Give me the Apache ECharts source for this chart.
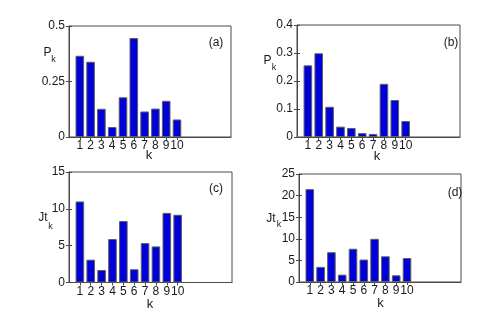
<!DOCTYPE html>
<html>
<head>
<meta charset="utf-8">
<script src="https://cdn.jsdelivr.net/npm/echarts@6/dist/echarts.min.js"></script>
<style>
html,body{margin:0;padding:0;background:#fff;}
#chart{width:491px;height:327px;}
</style>
</head>
<body>
<div id="chart"></div>
<script>
// ---- data ----
const kValues = [1, 2, 3, 4, 5, 6, 7, 8, 9, 10];
const pkA = [0.366, 0.339, 0.127, 0.045, 0.179, 0.446, 0.115, 0.128, 0.163, 0.079];
const pkB = [0.256, 0.299, 0.108, 0.037, 0.032, 0.014, 0.011, 0.190, 0.132, 0.057];
const jtC = [11.0, 3.1, 1.7, 5.9, 8.35, 1.8, 5.35, 4.9, 9.45, 9.2];
const jtD = [21.5, 3.5, 6.9, 1.7, 7.7, 5.2, 10.0, 5.95, 1.55, 5.55];
const yMaxes = [0.5, 0.4, 15, 25];
const yIntervals = [0.25, 0.1, 5, 5];
const xRange = [0, 15];
const panelTags = ['(a)', '(b)', '(c)', '(d)'];
const yNames = [['P', 'k'], ['P', 'k'], ['Jt', 'k'], ['Jt', 'k']];
const xName = 'k';

// ---- layout ----
const grids = [
  {left: 69, top: 26, width: 162, height: 111},
  {left: 297, top: 25, width: 163, height: 112},
  {left: 69, top: 172, width: 163, height: 110.5},
  {left: 299, top: 174, width: 162, height: 108}
];
const tagPos = [[216, 43], [451, 43], [216, 189], [455, 193]];
const yNamePos = [[[47.5, 52.5], [53.5, 60]], [[267.5, 61], [274, 67.5]], [[43, 218], [50.5, 226.5]], [[271, 218.5], [279, 224.5]]];
const xNamePos = [[149, 155.5], [377, 156], [150, 304], [380.5, 303.5]];

const FONT = 'Liberation Sans, Arial, Helvetica, sans-serif';
const AX = '#4a4a4a';
const TXT = '#1a1a1a';
const seriesData = [pkA, pkB, jtC, jtD];

const option = {
  animation: false,
  backgroundColor: '#fff',
  grid: grids.map(g => Object.assign({show: true, borderColor: AX, borderWidth: 1, containLabel: false}, g)),
  xAxis: [],
  yAxis: [],
  series: [],
  graphic: []
};

grids.forEach((g, i) => {
  option.xAxis.push({
    type: 'value', gridIndex: i, position: 'bottom', min: xRange[0], max: xRange[1], interval: 1,
    axisLine: {show: true, onZero: false, lineStyle: {color: AX, width: 1}},
    axisTick: {show: true, inside: true, length: 3, lineStyle: {color: AX}, customValues: kValues},
    axisLabel: {show: true, margin: 3, fontSize: 12, fontFamily: FONT, color: TXT, customValues: kValues, hideOverlap: false},
    splitLine: {show: false}
  });
  option.xAxis.push({
    type: 'value', gridIndex: i, position: 'top', min: xRange[0], max: xRange[1], interval: 1,
    axisLine: {show: false},
    axisTick: {show: true, inside: true, length: 3, lineStyle: {color: AX}, customValues: kValues},
    axisLabel: {show: false},
    splitLine: {show: false}
  });
  option.yAxis.push({
    type: 'value', gridIndex: i, position: 'left', min: 0, max: yMaxes[i], interval: yIntervals[i],
    axisLine: {show: true, lineStyle: {color: AX, width: 1}},
    axisTick: {show: true, inside: true, length: 3, lineStyle: {color: AX}},
    axisLabel: {show: true, margin: 4, fontSize: 12, fontFamily: FONT, color: TXT},
    splitLine: {show: false}
  });
  option.yAxis.push({
    type: 'value', gridIndex: i, position: 'right', min: 0, max: yMaxes[i], interval: yIntervals[i],
    axisLine: {show: false},
    axisTick: {show: true, inside: true, length: 3, lineStyle: {color: AX}},
    axisLabel: {show: false},
    splitLine: {show: false}
  });
  option.series.push({
    type: 'bar', xAxisIndex: 2 * i, yAxisIndex: 2 * i,
    barWidth: 8.6,
    data: kValues.map((k, j) => [k, seriesData[i][j]]),
    itemStyle: {color: '#0000d8', borderColor: '#606060', borderWidth: 1},
    emphasis: {disabled: true}
  });
  option.graphic.push({
    type: 'text', x: tagPos[i][0], y: tagPos[i][1],
    style: {text: panelTags[i], font: '12px ' + FONT, fill: TXT, align: 'center', verticalAlign: 'middle'}
  });
  option.graphic.push({
    type: 'text', x: yNamePos[i][0][0], y: yNamePos[i][0][1],
    style: {text: yNames[i][0], font: '12px ' + FONT, fill: TXT, align: 'center', verticalAlign: 'middle'}
  });
  option.graphic.push({
    type: 'text', x: yNamePos[i][1][0], y: yNamePos[i][1][1],
    style: {text: yNames[i][1], font: '9px ' + FONT, fill: TXT, align: 'center', verticalAlign: 'middle'}
  });
  option.graphic.push({
    type: 'text', x: xNamePos[i][0], y: xNamePos[i][1],
    style: {text: xName, font: '13px ' + FONT, fill: TXT, align: 'center', verticalAlign: 'middle'}
  });
});

const chart = echarts.init(document.getElementById('chart'), null, {renderer: 'canvas'});
chart.setOption(option);
</script>
</body>
</html>
